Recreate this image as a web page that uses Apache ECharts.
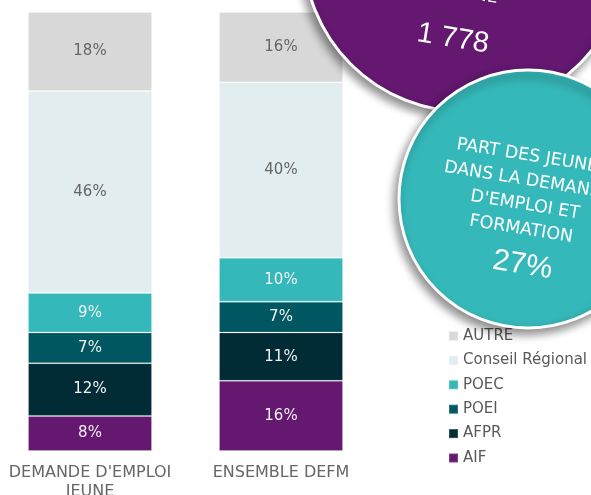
<!DOCTYPE html>
<html>
<head>
<meta charset="utf-8">
<script src="https://cdn.jsdelivr.net/npm/echarts@6/dist/echarts.min.js"></script>
<style>
  html, body { margin: 0; padding: 0; background: #fff; }
  #chart { width: 591px; height: 495px; }
</style>
</head>
<body>
<div id="chart"></div>
<script>
// values (% of each bar)
const categories = ["DEMANDE D'EMPLOI\nJEUNE", 'ENSEMBLE DEFM'];
const aif = [8, 16];
const afpr = [12, 11];
const poei = [7, 7];
const poec = [9, 10];
const conseilRegional = [46, 40];
const autre = [18, 16];

const seriesNames = ['AIF', 'AFPR', 'POEI', 'POEC', 'Conseil Régional', 'AUTRE'];
const legendOrder = ['AUTRE', 'Conseil Régional', 'POEC', 'POEI', 'AFPR', 'AIF'];

// bubbles
const nbJeunes = '1 778';
const partJeunes = '27%';

const colors = {
  'AIF': '#641870',
  'AFPR': '#012C35',
  'POEI': '#015761',
  'POEC': '#35B8B9',
  'Conseil Régional': '#E1EDEF',
  'AUTRE': '#D8D8D8'
};
const labelColors = {
  'AIF': '#F2F2F2',
  'AFPR': '#F2F2F2',
  'POEI': '#F2F2F2',
  'POEC': '#F2F2F2',
  'Conseil Régional': '#666666',
  'AUTRE': '#666666'
};
const values = [aif, afpr, poei, poec, conseilRegional, autre];

const myChart = echarts.init(document.getElementById('chart'));

const series = seriesNames.map((name, i) => ({
  name: name,
  type: 'bar',
  stack: 'total',
  barWidth: 124,
  data: values[i],
  itemStyle: { color: colors[name], borderColor: 'rgba(255,255,255,0.18)', borderWidth: 1 },
  label: {
    show: true,
    position: 'inside',
    formatter: '{c}%',
    color: labelColors[name],
    fontFamily: 'DejaVu Sans',
    fontSize: 15
  }
}));

const shadow = {
  shadowBlur: 10,
  shadowOffsetX: -3,
  shadowOffsetY: 5,
  shadowColor: 'rgba(0,0,0,0.45)'
};

const option = {
  animation: false,
  grid: { left: -5.5, right: 214.5, top: 12, bottom: 44, outerBoundsMode: 'none', containLabel: false },
  xAxis: {
    type: 'category',
    data: categories,
    axisLine: { show: false },
    axisTick: { show: false },
    axisLabel: {
      interval: 0,
      margin: 12,
      color: '#666666',
      fontFamily: 'DejaVu Sans',
      fontSize: 16,
      lineHeight: 19,
      verticalAlign: 'top'
    }
  },
  yAxis: { type: 'value', min: 0, max: 100, show: false },
  legend: {
    data: legendOrder,
    orient: 'vertical',
    left: 448,
    top: 328.5,
    padding: 0,
    itemWidth: 9,
    itemHeight: 9,
    itemGap: 9.4,
    icon: 'rect',
    selectedMode: false,
    textStyle: { color: '#595959', fontFamily: 'DejaVu Sans', fontSize: 15, lineHeight: 15 }
  },
  series: series,
  graphic: [
    {
      type: 'circle',
      z: 100,
      shape: { cx: 465, cy: -50, r: 161.5 },
      style: Object.assign({ fill: '#641870', stroke: '#fff', lineWidth: 3 }, shadow)
    },
    {
      type: 'group',
      z: 101,
      x: 453,
      y: 39,
      rotation: -0.16,
      children: [
        {
          type: 'text', x: 12, y: -47, z: 101,
          style: { text: 'JEUNE', fill: '#fff', font: '17px "DejaVu Sans"',
                   align: 'center', verticalAlign: 'middle', textAlign: 'center', textVerticalAlign: 'middle' }
        },
        {
          type: 'text', x: 0, y: 0, z: 101,
          style: { text: nbJeunes, fill: '#fff', font: '29px "Liberation Sans"',
                   align: 'center', verticalAlign: 'middle', textAlign: 'center', textVerticalAlign: 'middle' }
        }
      ]
    },
    {
      type: 'circle',
      z: 102,
      shape: { cx: 528, cy: 199, r: 129 },
      style: Object.assign({ fill: '#35B8B9', stroke: '#fff', lineWidth: 3 }, shadow)
    },
    {
      type: 'group',
      z: 103,
      x: 527,
      y: 193,
      rotation: -0.16,
      children: [
        {
          type: 'text', x: 0, y: 0, z: 103,
          style: { text: "PART DES JEUNES\nDANS LA DEMANDE\nD'EMPLOI ET\nFORMATION", fill: '#fff',
                   font: '17.5px "DejaVu Sans"', lineHeight: 24.5,
                   align: 'center', verticalAlign: 'middle', textAlign: 'center', textVerticalAlign: 'middle' }
        },
        {
          type: 'text', x: 7, y: 72, z: 103,
          style: { text: partJeunes, fill: '#fff', font: '30px "Liberation Sans"',
                   align: 'center', verticalAlign: 'middle', textAlign: 'center', textVerticalAlign: 'middle' }
        }
      ]
    }
  ]
};

myChart.setOption(option);
</script>
</body>
</html>
